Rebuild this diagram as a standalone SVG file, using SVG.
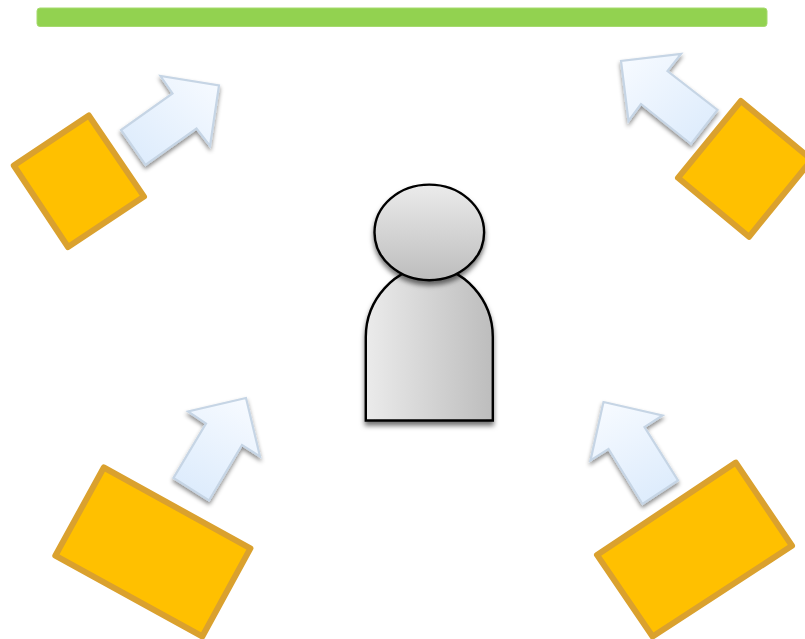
<svg xmlns="http://www.w3.org/2000/svg" xmlns:xlink="http://www.w3.org/1999/xlink" width="805" height="639" viewBox="0 0 805 639">
<defs>
<linearGradient id="ga" x1="0" y1="0" x2="0" y2="1"><stop offset="0" stop-color="#dcebfc"/><stop offset="1" stop-color="#f6faff"/></linearGradient>
<linearGradient id="a1" href="#ga" x1="0.05" y1="0.95" x2="0.95" y2="0.05"/>
<linearGradient id="a2" href="#ga" x1="0.95" y1="0.95" x2="0.05" y2="0.05"/>
<linearGradient id="a3" href="#ga" x1="0.25" y1="1" x2="0.75" y2="0"/>
<linearGradient id="a4" href="#ga" x1="0.75" y1="1" x2="0.25" y2="0"/>
<linearGradient id="gbody" x1="0" y1="0" x2="1" y2="0"><stop offset="0" stop-color="#ebebeb"/><stop offset="1" stop-color="#bdbdbd"/></linearGradient>
<linearGradient id="ghead" x1="0" y1="0" x2="0" y2="1"><stop offset="0" stop-color="#ebebeb"/><stop offset="1" stop-color="#bdbdbd"/></linearGradient>
<filter id="sh" x="-20%" y="-20%" width="140%" height="140%"><feDropShadow dx="0" dy="3" stdDeviation="2" flood-color="#000" flood-opacity="0.45"/></filter>
<filter id="shp" x="-20%" y="-20%" width="140%" height="140%"><feDropShadow dx="0" dy="4" stdDeviation="2.500" flood-color="#000" flood-opacity="0.55"/></filter>
</defs>
<style>
.cam{fill:#ffc000;stroke:#daa12e;stroke-width:6;stroke-linejoin:round}
.arr{stroke:#c6d5e5;stroke-width:2.200;stroke-linejoin:miter;filter:url(#sh)}
.per{stroke:#000;stroke-width:2.400;filter:url(#shp)}
</style>
<rect width="805" height="639" fill="#fff"/>
<g id="screen"><rect x="37" y="8" width="730" height="18.500" rx="3" fill="#92d250" stroke="#a6da6e" stroke-width="1"/></g>
<g id="connectors">
<polygon id="arrow-top-left" class="arr" fill="url(#a1)" points="121,130 145.500,165 196.500,128.500 210,146 219,85.500 160.500,76 172.500,93.500"/>
<polygon id="arrow-top-right" class="arr" fill="url(#a2)" points="717.500,110 691,144 641,104 628.500,121 621,61 681,54 667.500,71"/>
<polygon id="arrow-bottom-left" class="arr" fill="url(#a3)" points="173.500,478 209,500.500 242,445 260,456.500 246,398 188,411.500 206,423.500"/>
<polygon id="arrow-bottom-right" class="arr" fill="url(#a4)" points="678,480.500 642.500,504 608.500,449 590.500,460.500 603.500,402 662.500,415.500 644.500,427"/>
</g>
<g id="speaker-top-left"><polygon class="cam" points="88.800,115.500 13.800,165.500 68,247 144,196.600"/></g>
<g id="speaker-top-right"><polygon class="cam" points="740.900,101 678,177.800 749,236.800 811.700,159.700"/></g>
<g id="speaker-bottom-left"><polygon class="cam" points="103.800,467.500 250.400,548.400 202.300,636.500 55.300,555.700"/></g>
<g id="speaker-bottom-right"><polygon class="cam" points="735.800,462.600 792,545.800 652.600,636.500 597,554.900"/></g>
<g id="person">
<path class="per" fill="url(#gbody)" d="M365.800 420.500V337C365.800 300 395 267 429.500 267C464 267 492.800 300 492.800 337V420.500Z"/>
<ellipse class="per" fill="url(#ghead)" cx="429.300" cy="232.400" rx="54.800" ry="47.800"/>
</g>
</svg>
